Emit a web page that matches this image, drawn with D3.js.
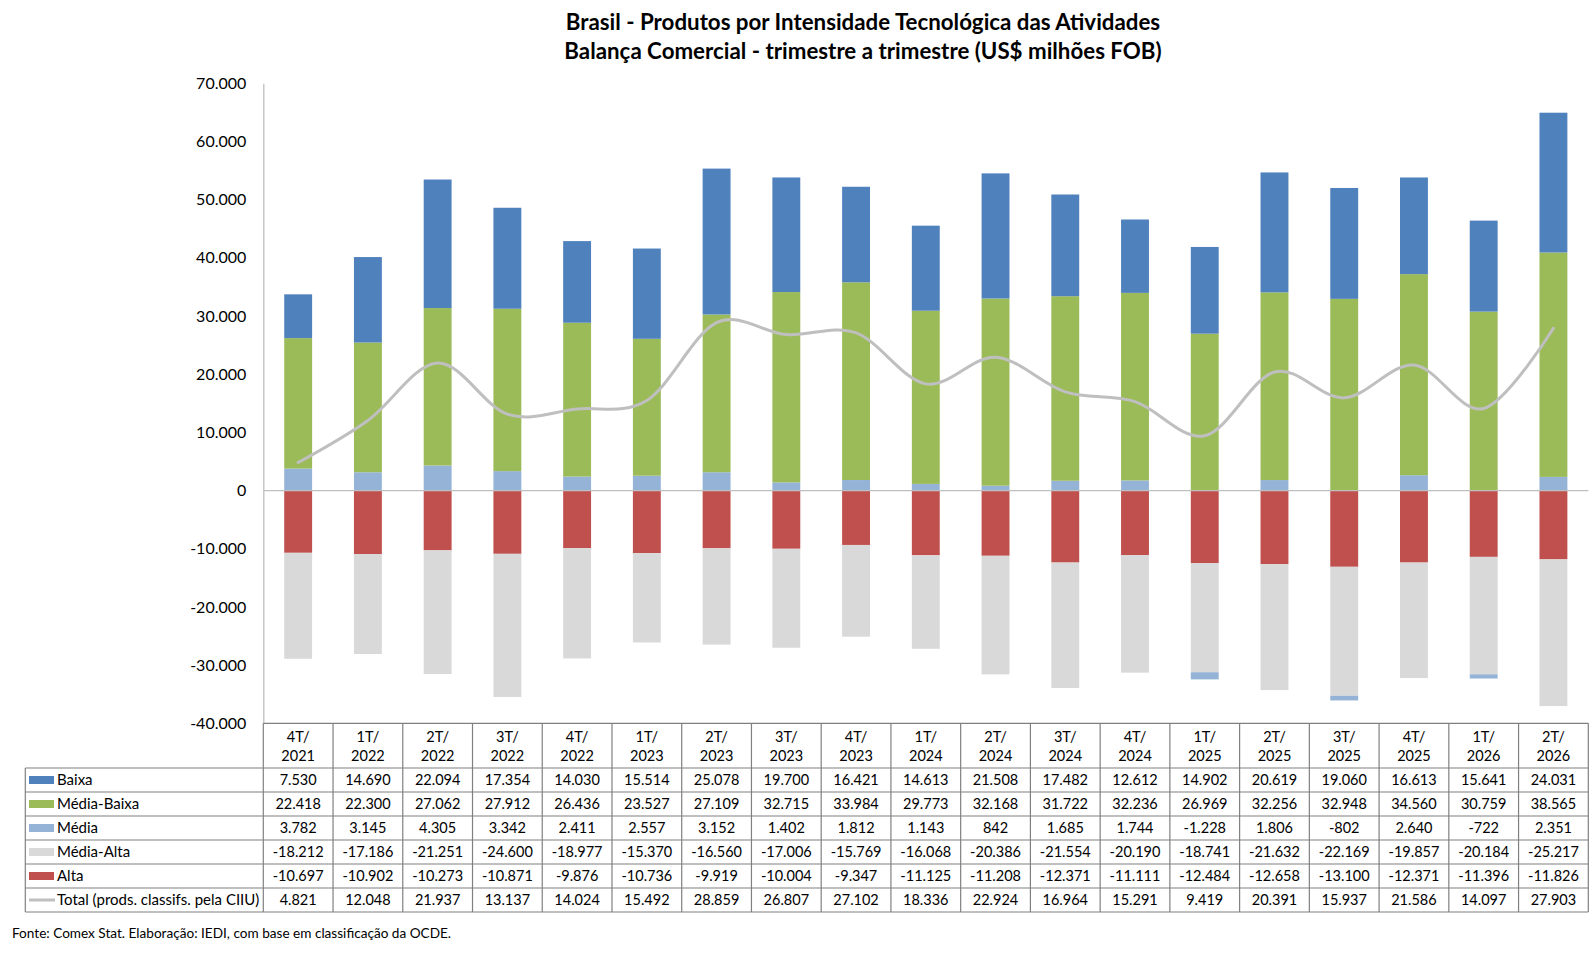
<!DOCTYPE html>
<html>
<head>
<meta charset="utf-8">
<script src="https://cdn.jsdelivr.net/npm/d3@7"></script>
<style>
  body { margin: 0; background: #fff; }
  text { font-family: Lato, "Open Sans", sans-serif; fill: #000; }
</style>
</head>
<body>
<div id="chart"></div>
<script>
// quarters shown on the x axis
let categories = ["4T/2021","1T/2022","2T/2022","3T/2022","4T/2022","1T/2023","2T/2023","3T/2023","4T/2023",
                  "1T/2024","2T/2024","3T/2024","4T/2024","1T/2025","2T/2025","3T/2025","4T/2025","1T/2026","2T/2026"];

// US$ millions FOB
let baixa      = [7530,14690,22094,17354,14030,15514,25078,19700,16421,14613,21508,17482,12612,14902,20619,19060,16613,15641,24031];
let mediaBaixa = [22418,22300,27062,27912,26436,23527,27109,32715,33984,29773,32168,31722,32236,26969,32256,32948,34560,30759,38565];
let media      = [3782,3145,4305,3342,2411,2557,3152,1402,1812,1143,842,1685,1744,-1228,1806,-802,2640,-722,2351];
let mediaAlta  = [-18212,-17186,-21251,-24600,-18977,-15370,-16560,-17006,-15769,-16068,-20386,-21554,-20190,-18741,-21632,-22169,-19857,-20184,-25217];
let alta       = [-10697,-10902,-10273,-10871,-9876,-10736,-9919,-10004,-9347,-11125,-11208,-12371,-11111,-12484,-12658,-13100,-12371,-11396,-11826];
let total      = [4821,12048,21937,13137,14024,15492,28859,26807,27102,18336,22924,16964,15291,9419,20391,15937,21586,14097,27903];

let yTicks = [-40000,-30000,-20000,-10000,0,10000,20000,30000,40000,50000,60000,70000];

let seriesNames = ["Baixa","Média-Baixa","Média","Média-Alta","Alta"];
let seriesValues = [baixa, mediaBaixa, media, mediaAlta, alta];
let colors = {"Baixa":"#4f81bd","Média-Baixa":"#9bbb59","Média":"#95b3d7","Média-Alta":"#d9d9d9","Alta":"#c0504d"};
let totalName = "Total (prods. classifs. pela CIIU)";

let W = 1594, H = 956;
let plotLeft = 263.3, plotRight = 1588.3, plotTop = 83.3, plotBottom = 723.3;

let locale = d3.formatLocale({decimal: ",", thousands: ".", grouping: [3], currency: ["", ""], minus: "-"});
let fmt = locale.format(",.0f");

let svg = d3.select("#chart").append("svg")
  .attr("width", W)
  .attr("height", H);

// title
let titleLines = ["Brasil - Produtos por Intensidade Tecnológica das Atividades",
                  "Balança Comercial - trimestre a trimestre (US$ milhões FOB)"];
svg.selectAll("text.title")
  .data(titleLines)
  .enter()
  .append("text")
  .attr("class", "title")
  .attr("x", 863)
  .attr("y", (d, i) => 30 + i * 29)
  .attr("text-anchor", "middle")
  .style("font-size", "22.3px")
  .style("font-weight", "bold")
  .text(d => d);

// scales
let x = d3.scaleBand()
  .domain(categories)
  .range([plotLeft, plotRight])
  .paddingInner(0.6)
  .paddingOuter(0.3);

let y = d3.scaleLinear()
  .domain([-40000, 70000])
  .range([plotBottom, plotTop]);

// data rows for stacking (stack order from zero outwards)
let rows = categories.map(function (c, i) {
  let r = {cat: c};
  seriesNames.forEach((s, k) => { r[s] = seriesValues[k][i]; });
  return r;
});

let stack = d3.stack()
  .keys(["Alta","Média-Alta","Média","Média-Baixa","Baixa"])
  .offset(d3.stackOffsetDiverging);

let layers = stack(rows);

svg.append("g")
  .selectAll("g")
  .data(layers)
  .enter()
  .append("g")
  .style("fill", d => colors[d.key])
  .selectAll("rect")
  .data(d => d)
  .enter()
  .append("rect")
  .attr("x", d => x(d.data.cat))
  .attr("width", x.bandwidth())
  .attr("y", d => y(Math.max(d[0], d[1])))
  .attr("height", d => Math.abs(y(d[0]) - y(d[1])));

// zero line
svg.append("line")
  .attr("x1", plotLeft).attr("x2", plotRight)
  .attr("y1", y(0)).attr("y2", y(0))
  .style("stroke", "#bfbfbf")
  .style("stroke-width", 1.3);

// y axis
let yAxis = svg.append("g")
  .attr("transform", "translate(" + plotLeft + ",0)")
  .call(d3.axisLeft(y).tickValues(yTicks).tickFormat(fmt).tickSize(0).tickSizeOuter(0).tickPadding(17));
yAxis.select(".domain").style("stroke", "#bfbfbf").style("stroke-width", 1.3);
yAxis.selectAll("text")
  .style("font-size", "16px")
  .style("font-family", "Lato, sans-serif")
  .attr("fill", "#000");

// total line
let line = d3.line()
  .x((d, i) => x(categories[i]) + x.bandwidth() / 2)
  .y(d => y(d))
  .curve(d3.curveCardinal.tension(0));

svg.append("path")
  .datum(total)
  .attr("d", line)
  .style("fill", "none")
  .style("stroke", "#bfbfbf")
  .style("stroke-width", 3)
  .style("stroke-linecap", "round");

// data table
let step = x.step();
let colLeft = c => x(c) + x.bandwidth() / 2 - step / 2;
let headTop = plotBottom, rowTop = 768, rowH = 24, tableLeft = 25.3;
let tableRows = seriesNames.concat([totalName]);
let tableValues = seriesValues.concat([total]);
let gridColor = "#808080";

let grid = svg.append("g").style("stroke", gridColor).style("stroke-width", 1.2);

grid.append("line")
  .attr("x1", plotLeft).attr("x2", plotRight)
  .attr("y1", headTop).attr("y2", headTop);

grid.selectAll("line.h")
  .data(d3.range(tableRows.length + 1))
  .enter()
  .append("line")
  .attr("class", "h")
  .attr("x1", tableLeft).attr("x2", plotRight)
  .attr("y1", k => rowTop + k * rowH)
  .attr("y2", k => rowTop + k * rowH);

grid.append("line")
  .attr("x1", tableLeft).attr("x2", tableLeft)
  .attr("y1", rowTop).attr("y2", rowTop + tableRows.length * rowH);

grid.selectAll("line.v")
  .data(d3.range(categories.length + 1))
  .enter()
  .append("line")
  .attr("class", "v")
  .attr("x1", i => plotLeft + i * step)
  .attr("x2", i => plotLeft + i * step)
  .attr("y1", headTop)
  .attr("y2", rowTop + tableRows.length * rowH);

// header: category labels in two lines
let head = svg.append("g").style("font-size", "14.5px");
categories.forEach(function (c) {
  let parts = c.split("/");
  let cx = colLeft(c) + step / 2;
  head.append("text")
    .attr("x", cx).attr("y", 737).attr("dy", "0.35em")
    .attr("text-anchor", "middle")
    .text(parts[0] + "/");
  head.append("text")
    .attr("x", cx).attr("y", 756).attr("dy", "0.35em")
    .attr("text-anchor", "middle")
    .text(parts[1]);
});

// row legends
let legend = svg.append("g").style("font-size", "15px");
tableRows.forEach(function (name, k) {
  let cy = rowTop + k * rowH + rowH / 2;
  if (colors[name]) {
    legend.append("rect")
      .attr("x", 29).attr("y", cy - 4)
      .attr("width", 25).attr("height", 8)
      .style("fill", colors[name]);
  } else {
    legend.append("line")
      .attr("x1", 29).attr("x2", 55)
      .attr("y1", cy).attr("y2", cy)
      .style("stroke", "#bfbfbf")
      .style("stroke-width", 3);
  }
  legend.append("text")
    .attr("x", 57).attr("y", cy).attr("dy", "0.35em")
    .text(name);
});

// values
let cells = svg.append("g").style("font-size", "14.5px");
tableValues.forEach(function (vals, k) {
  let cy = rowTop + k * rowH + rowH / 2;
  cells.selectAll(null)
    .data(vals)
    .enter()
    .append("text")
    .attr("x", (d, i) => colLeft(categories[i]) + step / 2)
    .attr("y", cy)
    .attr("dy", "0.35em")
    .attr("text-anchor", "middle")
    .text(d => fmt(d));
});

// source note
svg.append("text")
  .attr("x", 12)
  .attr("y", 933)
  .attr("dy", "0.35em")
  .style("font-size", "13.6px")
  .text("Fonte:  Comex Stat. Elaboração: IEDI, com base em classificação da OCDE.");
</script>
</body>
</html>
